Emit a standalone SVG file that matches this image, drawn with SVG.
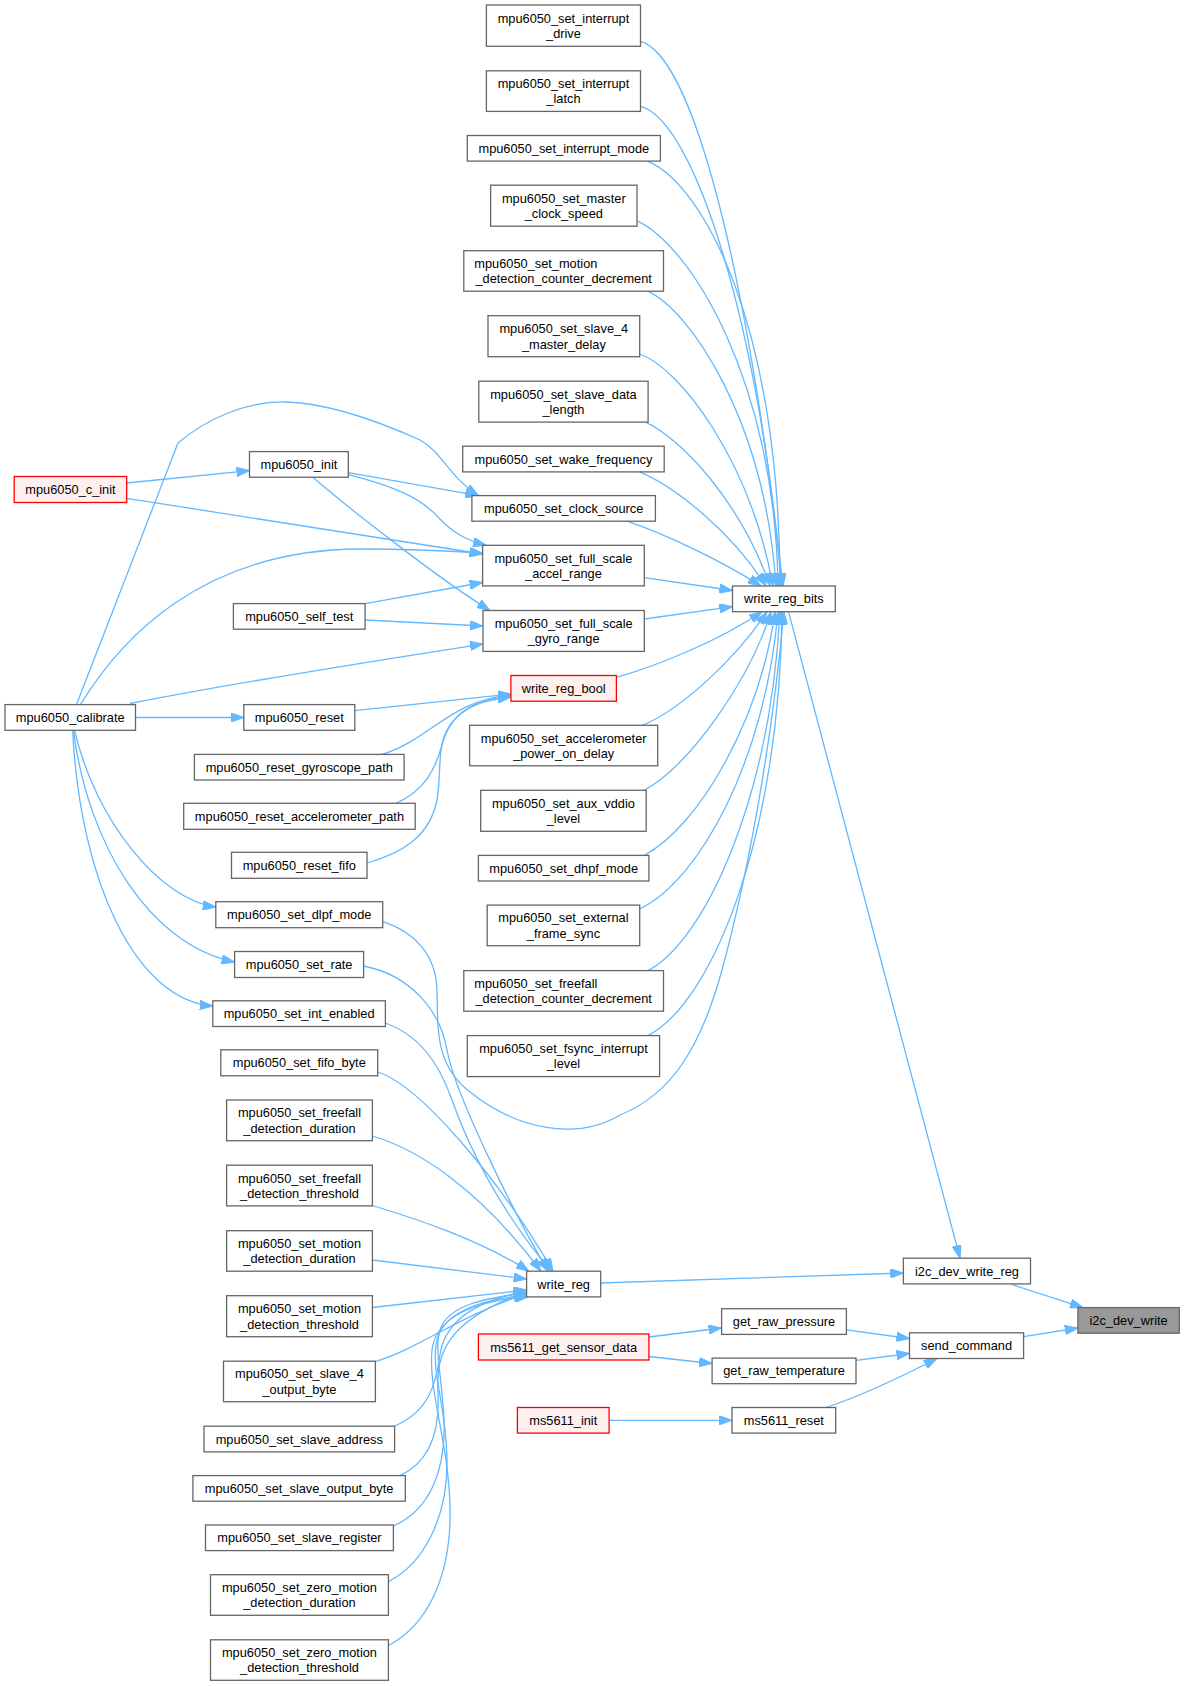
<svg xmlns="http://www.w3.org/2000/svg" width="1185" height="1686" viewBox="0 0 1185 1686">
<defs>
<style>
.node rect{fill:#ffffff;stroke:#666666;stroke-width:1.3}
.node.red rect{fill:#fff0f0;stroke:#ff0000}
.node.cur rect{fill:#999999;stroke:#666666}
.node text{font-family:"Liberation Sans",Arial,Helvetica,sans-serif;font-size:12.8px;fill:#000000;text-anchor:middle}
.node text.l{text-anchor:start}
.edges path{fill:none;stroke:#63b8ff;stroke-width:1.3;marker-end:url(#arr)}
</style>
<marker id="arr" viewBox="0 0 13 9.4" refX="13" refY="4.7" markerWidth="13" markerHeight="9.4" markerUnits="userSpaceOnUse" orient="auto">
<path d="M0,0 L13,4.7 L0,9.4 z" fill="#63b8ff" stroke="#63b8ff" stroke-width="1"/>
</marker>
</defs>
<rect x="0" y="0" width="1185" height="1686" fill="#ffffff"/>
<g id="connectors" class="edges">
<!-- to i2c_dev_write -->
<path d="M1011.7,1284.5 L1083,1307.6"/>
<path d="M1023.6,1336.7 L1077.9,1328"/>
<!-- to i2c_dev_write_reg -->
<path d="M600.7,1283 L903.4,1273"/>
<path d="M788.5,611.7 L960,1258.2"/>
<!-- to send_command -->
<path d="M846.4,1329.8 L909.5,1338.5"/>
<path d="M856,1360.4 L909.5,1353.5"/>
<path d="M826,1407.5 C855,1398 895,1380 937,1358.5"/>
<!-- ms5611 -->
<path d="M648.9,1337 L721.6,1328"/>
<path d="M648.9,1356.5 L712.1,1363.5"/>
<path d="M609.1,1420.3 L732,1420.3"/>
<!-- to write_reg_bits from above -->
<path d="M640.5,41.3 C690,55 745,250 783,586"/>
<path d="M640.5,106.4 C695,120 760,330 781.5,586"/>
<path d="M647.4,161.1 C705,185 780,330 780,586"/>
<path d="M637,220.8 C690,245 775,380 778,586"/>
<path d="M647.4,291.2 C690,310 765,420 776,586"/>
<path d="M639.7,354 C680,368 750,460 773,586"/>
<path d="M645.5,422.1 C680,438 740,500 770,586"/>
<path d="M639.7,471.9 C675,487 730,530 766,586"/>
<path d="M627,521.2 C665,534 720,560 761,586"/>
<path d="M644.3,577.7 L732.5,590.5"/>
<path d="M644.3,619 L732.5,606.7"/>
<!-- to write_reg_bits from below -->
<path d="M616.4,677.4 C660,665 720,640 762,611.7"/>
<path d="M642.4,725.3 C680,710 735,660 767,611.7"/>
<path d="M644.3,790.3 C690,765 750,680 771,611.7"/>
<path d="M644.3,855.4 C700,825 760,720 775,611.7"/>
<path d="M639.7,909 C700,880 765,760 778,611.7"/>
<path d="M648.1,970.6 C705,940 770,800 780,611.7"/>
<path d="M648.1,1035.6 C715,1000 780,830 782,611.7"/>
<path d="M382.7,921.7 C415,932 436,955 437,990 C438,1030 435,1065 470,1092 C515,1128 575,1142 620,1115 C670,1095 700,1050 722,970 C745,885 770,760 784,611.7"/>
<!-- to write_reg -->
<path d="M363.6,966 C410,975 440,1010 447,1050 C455,1095 515,1215 548,1271.2"/>
<path d="M385.4,1023 C420,1035 440,1065 452,1100 C470,1150 500,1210 551,1271.2"/>
<path d="M377.7,1072 C420,1085 500,1180 553,1271.2"/>
<path d="M372.4,1136 C420,1150 480,1190 541,1271.2"/>
<path d="M372.4,1205.5 C420,1220 480,1240 529,1271.2"/>
<path d="M372.4,1260 L526.6,1279"/>
<path d="M372.4,1307.5 L526.6,1290"/>
<path d="M375.4,1361.5 C420,1348 460,1315 526.6,1294"/>
<path d="M394.6,1426 C428,1412 436,1385 440,1355 C445,1318 480,1300 526.6,1291"/>
<path d="M400,1475.6 C430,1462 440,1430 438,1392 C436,1355 445,1320 526.6,1292"/>
<path d="M393.4,1526 C430,1510 446,1470 444,1420 C442,1375 434,1350 440,1330 C448,1305 485,1298 526.6,1293"/>
<path d="M388.4,1581.6 C425,1563 448,1515 447,1460 C446,1405 432,1375 436,1345 C440,1312 480,1300 527,1295"/>
<path d="M388.4,1645.5 C428,1625 452,1575 450,1505 C448,1440 428,1390 432,1350 C436,1315 480,1300 528,1296.9"/>
<!-- to write_reg_bool -->
<path d="M354.8,710.7 L510.9,694"/>
<path d="M382,754.4 C430,740 450,700 510.9,695"/>
<path d="M396,803.3 C425,790 435,770 442,745 C450,715 470,700 510.9,696"/>
<path d="M367,863 C405,852 430,835 437,800 C442,770 436,745 450,725 C465,705 485,700 510.9,697"/>
<!-- to gyro_range -->
<path d="M365.1,620 L483,626"/>
<path d="M130,703.5 C250,680 380,660 483,644"/>
<path d="M313,477.6 C345,505 440,580 490,610.5"/>
<!-- to accel_range -->
<path d="M365.1,603.6 L482.6,582.5"/>
<path d="M80.4,704.6 C120,640 200,550 360,549 C400,549 450,551 482.6,553"/>
<path d="M126.7,498.3 L482.6,554"/>
<path d="M348.3,474.6 C390,485 420,497 438,517 C452,532 465,540 486,545.3"/>
<!-- to clock_source -->
<path d="M348.3,472.6 L478.4,495.6"/>
<path d="M76.5,704.6 L178,443 C205,420 245,401 285,402 C330,403 380,422 420,440 C442,452 450,478 478.4,495.6"/>
<!-- to mpu6050_init -->
<path d="M126.7,483 L249.5,470.7"/>
<!-- from calibrate -->
<path d="M135.5,717.5 L243.8,717.5"/>
<path d="M74.6,730.3 C95,820 160,900 215.8,907"/>
<path d="M73.5,730.6 C88,845 150,945 234.6,962"/>
<path d="M72.7,730.6 C80,880 135,1000 212.8,1006"/>
</g>
<g id="mpu6050_c_init" class="node red"><rect x="14.2" y="476.5" width="112.5" height="26"/><text x="70.45" y="494">mpu6050_c_init</text></g>
<g id="mpu6050_calibrate" class="node"><rect x="5" y="704.6" width="130.5" height="25.7"/><text x="70.25" y="722">mpu6050_calibrate</text></g>
<g id="mpu6050_init" class="node"><rect x="249.5" y="451.6" width="98.8" height="25.6"/><text x="298.9" y="468.9">mpu6050_init</text></g>
<g id="mpu6050_self_test" class="node"><rect x="233.4" y="603.6" width="131.7" height="25.6"/><text x="299.25" y="620.9">mpu6050_self_test</text></g>
<g id="mpu6050_reset" class="node"><rect x="243.8" y="704.6" width="111" height="25.7"/><text x="299.3" y="722">mpu6050_reset</text></g>
<g id="mpu6050_reset_gyroscope_path" class="node"><rect x="194.4" y="754.4" width="209.7" height="25.6"/><text x="299.25" y="771.7">mpu6050_reset_gyroscope_path</text></g>
<g id="mpu6050_reset_accelerometer_path" class="node"><rect x="183.7" y="803.3" width="231.5" height="26"/><text x="299.45" y="820.8">mpu6050_reset_accelerometer_path</text></g>
<g id="mpu6050_reset_fifo" class="node"><rect x="231.5" y="852.3" width="135.5" height="26"/><text x="299.25" y="869.8">mpu6050_reset_fifo</text></g>
<g id="mpu6050_set_dlpf_mode" class="node"><rect x="215.8" y="901.7" width="166.9" height="26"/><text x="299.25" y="919.2">mpu6050_set_dlpf_mode</text></g>
<g id="mpu6050_set_rate" class="node"><rect x="234.6" y="951.5" width="129" height="26"/><text x="299.1" y="969">mpu6050_set_rate</text></g>
<g id="mpu6050_set_int_enabled" class="node"><rect x="212.8" y="1000.8" width="172.6" height="25.7"/><text x="299.1" y="1018.1">mpu6050_set_int_enabled</text></g>
<g id="mpu6050_set_fifo_byte" class="node"><rect x="220.8" y="1049.8" width="156.9" height="26"/><text x="299.25" y="1067.3">mpu6050_set_fifo_byte</text></g>
<g id="mpu6050_set_freefall_detection_duration" class="node"><rect x="226.6" y="1100" width="145.8" height="40.7"/><text x="299.5" y="1117.35">mpu6050_set_freefall<tspan x="299.5" y="1132.65">_detection_duration</tspan></text></g>
<g id="mpu6050_set_freefall_detection_threshold" class="node"><rect x="226.6" y="1165.2" width="145.8" height="40.7"/><text x="299.5" y="1182.55">mpu6050_set_freefall<tspan x="299.5" y="1197.85">_detection_threshold</tspan></text></g>
<g id="mpu6050_set_motion_detection_duration" class="node"><rect x="226.6" y="1230.7" width="145.8" height="40.5"/><text x="299.5" y="1247.95">mpu6050_set_motion<tspan x="299.5" y="1263.25">_detection_duration</tspan></text></g>
<g id="mpu6050_set_motion_detection_threshold" class="node"><rect x="226.6" y="1295.7" width="145.8" height="41"/><text x="299.5" y="1313.2">mpu6050_set_motion<tspan x="299.5" y="1328.5">_detection_threshold</tspan></text></g>
<g id="mpu6050_set_slave_4_output_byte" class="node"><rect x="223.5" y="1361.2" width="151.9" height="40.5"/><text x="299.45" y="1378.45">mpu6050_set_slave_4<tspan x="299.45" y="1393.75">_output_byte</tspan></text></g>
<g id="mpu6050_set_slave_address" class="node"><rect x="204" y="1426.2" width="190.6" height="25.7"/><text x="299.3" y="1443.5">mpu6050_set_slave_address</text></g>
<g id="mpu6050_set_slave_output_byte" class="node"><rect x="192.9" y="1475.6" width="212.4" height="25.6"/><text x="299.1" y="1492.9">mpu6050_set_slave_output_byte</text></g>
<g id="mpu6050_set_slave_register" class="node"><rect x="205.5" y="1525" width="187.9" height="25.6"/><text x="299.45" y="1542.3">mpu6050_set_slave_register</text></g>
<g id="mpu6050_set_zero_motion_detection_duration" class="node"><rect x="210.5" y="1574.7" width="177.9" height="40.6"/><text x="299.45" y="1592">mpu6050_set_zero_motion<tspan x="299.45" y="1607.3">_detection_duration</tspan></text></g>
<g id="mpu6050_set_zero_motion_detection_threshold" class="node"><rect x="210.5" y="1639.8" width="177.9" height="40.5"/><text x="299.45" y="1657.05">mpu6050_set_zero_motion<tspan x="299.45" y="1672.35">_detection_threshold</tspan></text></g>
<g id="mpu6050_set_interrupt_drive" class="node"><rect x="486.4" y="5" width="154.1" height="41.3"/><text x="563.45" y="22.65">mpu6050_set_interrupt<tspan x="563.45" y="37.95">_drive</tspan></text></g>
<g id="mpu6050_set_interrupt_latch" class="node"><rect x="486.4" y="70.8" width="154.1" height="40.6"/><text x="563.45" y="88.1">mpu6050_set_interrupt<tspan x="563.45" y="103.4">_latch</tspan></text></g>
<g id="mpu6050_set_interrupt_mode" class="node"><rect x="467.3" y="135.5" width="193.1" height="25.6"/><text x="563.85" y="152.8">mpu6050_set_interrupt_mode</text></g>
<g id="mpu6050_set_master_clock_speed" class="node"><rect x="490.6" y="185.2" width="146.4" height="41"/><text x="563.8" y="202.7">mpu6050_set_master<tspan x="563.8" y="218">_clock_speed</tspan></text></g>
<g id="mpu6050_set_motion_detection_counter_decrement" class="node"><rect x="463.8" y="250.7" width="199.7" height="40.5"/><text class="l" x="474.3" y="267.95">mpu6050_set_motion</text><text x="563.65" y="283.25">_detection_counter_decrement</text></g>
<g id="mpu6050_set_slave_4_master_delay" class="node"><rect x="488" y="315.7" width="151.7" height="41"/><text x="563.85" y="333.2">mpu6050_set_slave_4<tspan x="563.85" y="348.5">_master_delay</tspan></text></g>
<g id="mpu6050_set_slave_data_length" class="node"><rect x="478.8" y="381.2" width="169.3" height="40.9"/><text x="563.45" y="398.65">mpu6050_set_slave_data<tspan x="563.45" y="413.95">_length</tspan></text></g>
<g id="mpu6050_set_wake_frequency" class="node"><rect x="462.7" y="446.2" width="201.5" height="25.7"/><text x="563.45" y="463.5">mpu6050_set_wake_frequency</text></g>
<g id="mpu6050_set_clock_source" class="node"><rect x="471.9" y="495.6" width="183.5" height="25.6"/><text x="563.65" y="512.9">mpu6050_set_clock_source</text></g>
<g id="mpu6050_set_full_scale_accel_range" class="node"><rect x="482.6" y="545.3" width="161.7" height="40.6"/><text x="563.45" y="562.6">mpu6050_set_full_scale<tspan x="563.45" y="577.9">_accel_range</tspan></text></g>
<g id="mpu6050_set_full_scale_gyro_range" class="node"><rect x="483" y="610.5" width="161.3" height="40.9"/><text x="563.65" y="627.95">mpu6050_set_full_scale<tspan x="563.65" y="643.25">_gyro_range</tspan></text></g>
<g id="write_reg_bool" class="node red"><rect x="510.9" y="675.5" width="105.5" height="25.7"/><text x="563.65" y="692.8">write_reg_bool</text></g>
<g id="mpu6050_set_accelerometer_power_on_delay" class="node"><rect x="469.6" y="725.3" width="188.1" height="40.5"/><text x="563.65" y="742.55">mpu6050_set_accelerometer<tspan x="563.65" y="757.85">_power_on_delay</tspan></text></g>
<g id="mpu6050_set_aux_vddio_level" class="node"><rect x="480.7" y="790.3" width="165.5" height="41"/><text x="563.45" y="807.8">mpu6050_set_aux_vddio<tspan x="563.45" y="823.1">_level</tspan></text></g>
<g id="mpu6050_set_dhpf_mode" class="node"><rect x="478.4" y="855.4" width="170.5" height="25.6"/><text x="563.65" y="872.7">mpu6050_set_dhpf_mode</text></g>
<g id="mpu6050_set_external_frame_sync" class="node"><rect x="487.2" y="905.1" width="152.5" height="40.6"/><text x="563.45" y="922.4">mpu6050_set_external<tspan x="563.45" y="937.7">_frame_sync</tspan></text></g>
<g id="mpu6050_set_freefall_detection_counter_decrement" class="node"><rect x="463.8" y="970.6" width="199.7" height="40.6"/><text class="l" x="474.3" y="987.9">mpu6050_set_freefall</text><text x="563.65" y="1003.2">_detection_counter_decrement</text></g>
<g id="mpu6050_set_fsync_interrupt_level" class="node"><rect x="467.3" y="1035.6" width="192.3" height="41"/><text x="563.45" y="1053.1">mpu6050_set_fsync_interrupt<tspan x="563.45" y="1068.4">_level</tspan></text></g>
<g id="write_reg" class="node"><rect x="526.6" y="1271.2" width="74.1" height="25.7"/><text x="563.65" y="1288.5">write_reg</text></g>
<g id="ms5611_get_sensor_data" class="node red"><rect x="478.4" y="1334" width="170.5" height="26"/><text x="563.65" y="1351.5">ms5611_get_sensor_data</text></g>
<g id="ms5611_init" class="node red"><rect x="517.4" y="1407.5" width="91.7" height="25.6"/><text x="563.25" y="1424.8">ms5611_init</text></g>
<g id="write_reg_bits" class="node"><rect x="732.5" y="586" width="102.8" height="25.7"/><text x="783.9" y="603.3">write_reg_bits</text></g>
<g id="get_raw_pressure" class="node"><rect x="721.6" y="1308.7" width="124.8" height="25.7"/><text x="784" y="1326">get_raw_pressure</text></g>
<g id="get_raw_temperature" class="node"><rect x="712.1" y="1358.1" width="143.9" height="25.6"/><text x="784.05" y="1375.4">get_raw_temperature</text></g>
<g id="ms5611_reset" class="node"><rect x="732" y="1407.5" width="103.7" height="25.6"/><text x="783.85" y="1424.8">ms5611_reset</text></g>
<g id="i2c_dev_write_reg" class="node"><rect x="903.4" y="1258.2" width="127.1" height="25.7"/><text x="966.95" y="1275.5">i2c_dev_write_reg</text></g>
<g id="send_command" class="node"><rect x="909.5" y="1332.8" width="114.1" height="25.7"/><text x="966.55" y="1350.1">send_command</text></g>
<g id="i2c_dev_write" class="node cur"><rect x="1077.9" y="1307.6" width="101.4" height="25.6"/><text x="1128.6" y="1324.9">i2c_dev_write</text></g>
</svg>
